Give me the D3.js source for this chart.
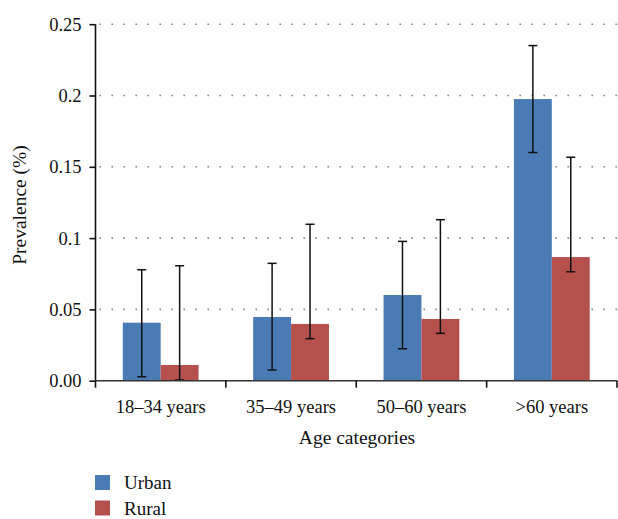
<!DOCTYPE html>
<html>
<head>
<meta charset="utf-8">
<script src="https://cdn.jsdelivr.net/npm/d3@7"></script>
<style>
body { margin:0; background:#fff; }
text { font-family:"Liberation Serif","DejaVu Serif",serif; fill:#111; }
</style>
</head>
<body>
<div id="chart"></div>
<script>
/* data */
var categories = ["18\u201334 years","35\u201349 years","50\u201360 years",">60 years"];
var series = ["Urban","Rural"];
var urban =     [0.0407, 0.0447, 0.0601, 0.1975];
var urbanLow =  [0.0028, 0.0075, 0.0224, 0.160];
var urbanHigh = [0.0778, 0.0823, 0.0977, 0.235];
var rural =     [0.011, 0.0398, 0.0433, 0.0867];
var ruralLow =  [0.0005, 0.0295, 0.0332, 0.0764];
var ruralHigh = [0.0806, 0.1097, 0.1129, 0.1567];
var yTicks = [0, 0.05, 0.1, 0.15, 0.2, 0.25];
var yTickLabels = ["0.00","0.05","0.1","0.15","0.2","0.25"];
var colors = ["#4a7bb5","#b5504d"];

(function(){
	var width = 618, height = 519;
	var svg = d3.select("#chart").append("svg").attr("width",width).attr("height",height);

	var mLeft = 95.5, mRight = 617, mTop = 24.2, mBottom = 380.7;

	var x = d3.scaleBand().domain(categories).range([mLeft,mRight]);
	var xs = d3.scaleBand().domain(series).range([0,x.bandwidth()]).paddingOuter(0.72);
	var y = d3.scaleLinear().domain([0,0.25]).range([mBottom,mTop]);

	// grid
	svg.append("g").selectAll("line")
		.data(yTicks.slice(1))
		.enter().append("line")
		.attr("x1",mLeft+4).attr("x2",mRight)
		.attr("y1",function(d){return y(d);}).attr("y2",function(d){return y(d);})
		.attr("stroke","#777").attr("stroke-width",1.6)
		.attr("stroke-dasharray","1.4,10.6");

	var rows = [];
	categories.forEach(function(c,i){
		rows.push({cat:c,s:"Urban",v:urban[i],lo:urbanLow[i],hi:urbanHigh[i],k:0});
		rows.push({cat:c,s:"Rural",v:rural[i],lo:ruralLow[i],hi:ruralHigh[i],k:1});
	});

	svg.append("g").selectAll("rect")
		.data(rows).enter().append("rect")
		.attr("x",function(d){return x(d.cat)+xs(d.s);})
		.attr("width",xs.bandwidth())
		.attr("y",function(d){return y(d.v);})
		.attr("height",function(d){return y(0)-y(d.v);})
		.attr("fill",function(d){return colors[d.k];});

	// error bars
	var eb = svg.append("g").attr("stroke","#111").attr("stroke-width",1.5);
	rows.forEach(function(d){
		var cx = x(d.cat)+xs(d.s)+xs.bandwidth()/2;
		eb.append("line").attr("x1",cx).attr("x2",cx).attr("y1",y(d.lo)).attr("y2",y(d.hi));
		eb.append("line").attr("x1",cx-4.5).attr("x2",cx+4.5).attr("y1",y(d.lo)).attr("y2",y(d.lo));
		eb.append("line").attr("x1",cx-4.5).attr("x2",cx+4.5).attr("y1",y(d.hi)).attr("y2",y(d.hi));
	});

	// y axis
	var yAxis = d3.axisLeft(y).tickValues(yTicks).tickSize(6).tickPadding(8)
		.tickFormat(function(d,i){return yTickLabels[i];});
	var gy = svg.append("g").attr("transform","translate("+mLeft+",0)").call(yAxis);
	gy.select(".domain").attr("d","M0,"+mTop+"V"+mBottom).attr("stroke","#111").attr("stroke-width",1.6);
	gy.selectAll(".tick line").attr("stroke","#111").attr("stroke-width",1.6);
	gy.selectAll("text").style("font-size","18.5px").attr("fill","#111").style("font-family","Liberation Serif, serif");

	// x axis
	var xAxis = d3.axisBottom(x).tickSize(0).tickPadding(19);
	var gx = svg.append("g").attr("transform","translate(0,"+mBottom+")").call(xAxis);
	gx.select(".domain").attr("d","M"+mLeft+",0H"+mRight).attr("stroke","#333").attr("stroke-width",1.6);
	gx.selectAll("text").style("font-size","18.5px").attr("fill","#111").style("font-family","Liberation Serif, serif");
	var bounds = x.domain().map(function(c){return x(c);}).concat([mRight]);
	gx.selectAll(".bt").data(bounds).enter().append("line")
		.attr("x1",function(d){return d;}).attr("x2",function(d){return d;})
		.attr("y1",0).attr("y2",7).attr("stroke","#111").attr("stroke-width",1.6);

	// titles
	svg.append("text").attr("x",357).attr("y",444).attr("text-anchor","middle")
		.style("font-size","19.5px").text("Age categories");
	svg.append("text").attr("transform","translate(26,205) rotate(-90)").attr("text-anchor","middle")
		.style("font-size","19.5px").text("Prevalence (%)");

	// legend
	var lg = svg.append("g").attr("transform","translate(95,475)");
	series.forEach(function(s,i){
		lg.append("rect").attr("x",0).attr("y",i*25.5).attr("width",15).attr("height",15).attr("fill",colors[i]);
		lg.append("text").attr("x",29).attr("y",i*25.5+14).style("font-size","19px").text(s);
	});
})();
</script>
</body>
</html>
